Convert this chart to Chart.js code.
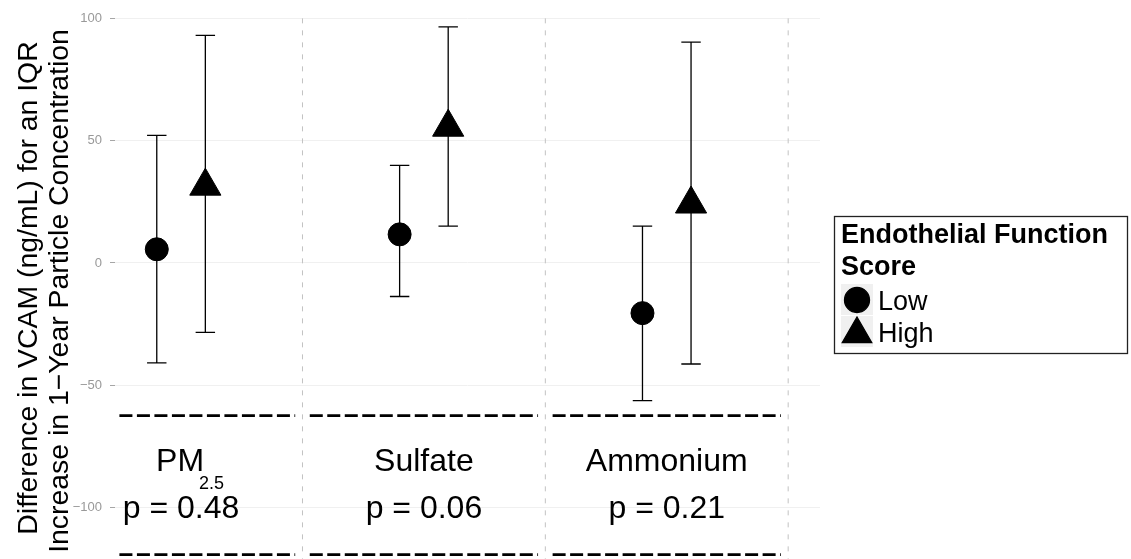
<!DOCTYPE html>
<html>
<head>
<meta charset="utf-8">
<script src="https://cdn.jsdelivr.net/npm/chart.js@4"></script>
<style>
  html, body { margin: 0; padding: 0; background: #fff; }
  #wrap { width: 1131px; height: 559px; }
</style>
</head>
<body>
<div id="wrap"><canvas id="myChart" width="1131" height="559"></canvas></div>
<script>
// pollutants and the text under each panel
const categories = ["PM", "Sulfate", "Ammonium"];
const categorySubs = ["2.5", "", ""];
const pValues = ["p = 0.48", "p = 0.06", "p = 0.21"];

// low endothelial function score: estimate + 95% CI
const lowEst = [5.6, 11.7, -20.5];
const lowLower = [-40.8, -13.7, -56.3];
const lowUpper = [52.2, 39.9, 15.1];

// high endothelial function score
const highEst = [31.4, 55.5, 24.1];
const highLower = [-28.4, 15.1, -41.3];
const highUpper = [93.0, 96.5, 90.3];

const yTicks = [-100, -50, 0, 50, 100];
const yTitle = [
  "Difference in VCAM (ng/mL) for an IQR",
  "Increase in 1\u2212Year Particle Concentration",
];
const frameLines = [-62.4, -119.2]; // thick dashed lines around the labels
const dodge = 0.1;

const FONT = "'Liberation Sans', Arial, Helvetica, sans-serif";
Chart.defaults.font.family = FONT;

// build line data for the dashed frame and the panel separators
const frameData = [];
frameLines.forEach((yv) => {
  categories.forEach((c, i) => {
    frameData.push({ x: i + 1 - 0.47, y: yv });
    frameData.push({ x: i + 1 + 0.47, y: yv });
    frameData.push({ x: i + 1.48, y: null }); // gap
  });
});
const sepData = [];
categories.forEach((c, i) => {
  sepData.push({ x: i + 1.5, y: 100 });
  sepData.push({ x: i + 1.5, y: -121 });
  sepData.push({ x: i + 1.5, y: null });
});

const errorBars = {
  id: "errorBars",
  beforeDatasetsDraw(chart) {
    const ctx = chart.ctx;
    const xs = chart.scales.x;
    const ys = chart.scales.y;
    const series = [
      { off: -dodge, lo: lowLower, hi: lowUpper },
      { off: dodge, lo: highLower, hi: highUpper },
    ];
    ctx.save();
    ctx.strokeStyle = "#000";
    ctx.lineWidth = 1.3;
    series.forEach((s) => {
      categories.forEach((c, i) => {
        const pos = i + 1 + s.off;
        const x = xs.getPixelForValue(pos);
        const xl = xs.getPixelForValue(pos - 0.04);
        const xr = xs.getPixelForValue(pos + 0.04);
        const y1 = ys.getPixelForValue(s.lo[i]);
        const y2 = ys.getPixelForValue(s.hi[i]);
        ctx.beginPath();
        ctx.moveTo(x, y1); ctx.lineTo(x, y2);
        ctx.moveTo(xl, y1); ctx.lineTo(xr, y1);
        ctx.moveTo(xl, y2); ctx.lineTo(xr, y2);
        ctx.stroke();
      });
    });
    ctx.restore();
  },
  afterDraw(chart) {
    const ctx = chart.ctx;
    const xs = chart.scales.x;
    const ys = chart.scales.y;
    ctx.save();
    ctx.fillStyle = "#000";
    ctx.textBaseline = "alphabetic";

    // y axis title, two rotated lines
    ctx.font = "28.4px " + FONT;
    ctx.textAlign = "center";
    [[36.5, 288], [68, 291]].forEach((p, k) => {
      ctx.save();
      ctx.translate(p[0], p[1]);
      ctx.rotate(-Math.PI / 2);
      ctx.fillText(yTitle[k], 0, 0);
      ctx.restore();
    });

    // panel labels
    categories.forEach((c, i) => {
      const cx = xs.getPixelForValue(i + 1);
      const yLab = ys.getPixelForValue(-85.2);
      ctx.font = "32px " + FONT;
      if (categorySubs[i]) {
        ctx.textAlign = "right";
        ctx.fillText(c, cx + 23, yLab);
        ctx.font = "18px " + FONT;
        ctx.textAlign = "left";
        ctx.fillText(categorySubs[i], cx + 18, ys.getPixelForValue(-92.2));
      } else {
        ctx.textAlign = "center";
        ctx.fillText(c, cx, yLab);
      }
      ctx.font = "32px " + FONT;
      ctx.textAlign = "center";
      ctx.fillText(pValues[i], cx, ys.getPixelForValue(-104.1));
    });

    // legend
    ctx.strokeStyle = "#222";
    ctx.lineWidth = 1.3;
    ctx.strokeRect(834.5, 216.5, 293, 137);
    ctx.textAlign = "left";
    ctx.font = "bold 27px " + FONT;
    ctx.fillText("Endothelial Function", 841, 243);
    ctx.fillText("Score", 841, 275);
    const ds = chart.data.datasets.filter((d) => d.isGroup);
    ds.forEach((d, k) => {
      const top = 284 + k * 32;
      ctx.fillStyle = "#f0f0f0";
      ctx.fillRect(841, top, 32, 31);
      ctx.fillStyle = "#000";
      ctx.strokeStyle = "#000";
      const legendPt = d.pointStyle === "triangle"
        ? { pointStyle: "triangle", radius: 17, rotation: 0, borderWidth: 1 }
        : { pointStyle: "circle", radius: 12.5, rotation: 0, borderWidth: 1 };
      Chart.helpers.drawPoint(ctx, legendPt, 857, d.pointStyle === "triangle" ? top + 18 : top + 16);
      ctx.font = "27px " + FONT;
      ctx.fillText(d.label, 878, top + 26);
    });
    ctx.restore();
  },
};

new Chart(document.getElementById("myChart"), {
  type: "scatter",
  data: {
    datasets: [
      {
        label: "Low",
        isGroup: true,
        data: lowEst.map((v, i) => ({ x: i + 1 - dodge, y: v })),
        pointStyle: "circle",
        pointRadius: 11.5,
        backgroundColor: "#000",
        borderColor: "#000",
        borderWidth: 1,
        order: 1,
      },
      {
        label: "High",
        isGroup: true,
        data: highEst.map((v, i) => ({ x: i + 1 + dodge, y: v })),
        pointStyle: "triangle",
        pointRadius: 18,
        backgroundColor: "#000",
        borderColor: "#000",
        borderWidth: 1,
        order: 1,
      },
      {
        label: "frame",
        type: "line",
        data: frameData,
        showLine: true,
        spanGaps: false,
        pointRadius: 0,
        borderColor: "#000",
        borderWidth: 2.6,
        borderDash: [13, 4.5],
        order: 3,
      },
      {
        label: "separators",
        type: "line",
        data: sepData,
        showLine: true,
        spanGaps: false,
        pointRadius: 0,
        borderColor: "#c2c2c2",
        borderWidth: 1,
        borderDash: [5, 7],
        order: 4,
      },
    ],
  },
  options: {
    responsive: false,
    animation: false,
    layout: { autoPadding: false, padding: { left: 0, right: 311, top: 0, bottom: 0 } },
    plugins: {
      legend: { display: false },
      tooltip: { enabled: false },
    },
    scales: {
      x: {
        type: "linear",
        display: false,
        min: 0.728,
        max: 3.631,
      },
      y: {
        type: "linear",
        min: -121,
        max: 107.5,
        afterBuildTicks: (scale) => {
          scale.ticks = yTicks.map((v) => ({ value: v }));
        },
        afterFit: (scale) => {
          scale.width = 115;
          scale.paddingTop = 0;
          scale.paddingBottom = 0;
        },
        border: { display: false },
        grid: {
          color: "#f0f0f0",
          lineWidth: 1,
          drawTicks: true,
          tickLength: 5,
          tickColor: "#a6a6a6",
        },
        ticks: {
          color: "#999",
          padding: 8,
          font: { size: 13 },
          callback: (v) => (v < 0 ? "\u2212" + Math.abs(v) : String(v)),
        },
        title: { display: false },
      },
    },
  },
  plugins: [errorBars],
});
</script>
</body>
</html>
